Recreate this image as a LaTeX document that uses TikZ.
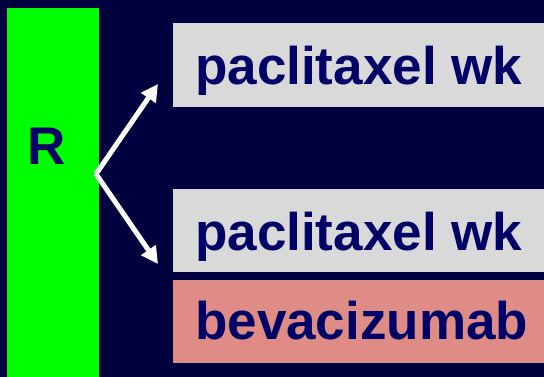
\documentclass[tikz,border=0pt]{standalone}
\usepackage{fontspec}
\setmainfont{Liberation Sans}
\usetikzlibrary{arrows.meta}
\definecolor{bgnavy}{HTML}{00003F}
\definecolor{txtnavy}{HTML}{000066}
\definecolor{boxgray}{HTML}{D9D9D9}
\definecolor{boxpink}{HTML}{DF8C87}
\definecolor{armgreen}{HTML}{00FF00}
\begin{document}
\begin{tikzpicture}[x=1pt,y=-1pt,
  panel/.style={anchor=north west, inner sep=0pt, outer sep=0pt, draw=none},
  lbl/.style={anchor=base west, inner sep=0pt, text=txtnavy, font=\fontsize{53}{60}\selectfont\bfseries},
  arm/.style={draw=white, line width=5pt, -{Triangle[length=17pt,width=17pt]}}]
\fill[bgnavy] (0,0) rectangle (544,377);
\useasboundingbox (0,0) rectangle (544,377);
\node[panel, fill=armgreen, minimum width=92pt, minimum height=369pt] (rand) at (7,8) {};
\node[lbl, anchor=base, text=txtnavy] (rlbl) at (47,165) {R};
\node[panel, fill=boxgray, minimum width=371pt, minimum height=84pt] (box1) at (173,23) {};
\node[panel, fill=boxgray, minimum width=371pt, minimum height=83pt] (box2) at (173,189) {};
\node[panel, fill=boxpink, minimum width=371pt, minimum height=83pt] (box3) at (173,280) {};
\node[lbl] (t1) at (195,85) {paclitaxel wk};
\node[lbl] (t2) at (195,251) {paclitaxel wk};
\node[lbl] (t3) at (195,339) {bevacizumab};
\coordinate (split) at (96,174);
\coordinate (tip1) at (158,84);
\coordinate (tip2) at (158,264);
\draw[arm] (split) -- (tip1);
\draw[arm] (split) -- (tip2);
\end{tikzpicture}
\end{document}
